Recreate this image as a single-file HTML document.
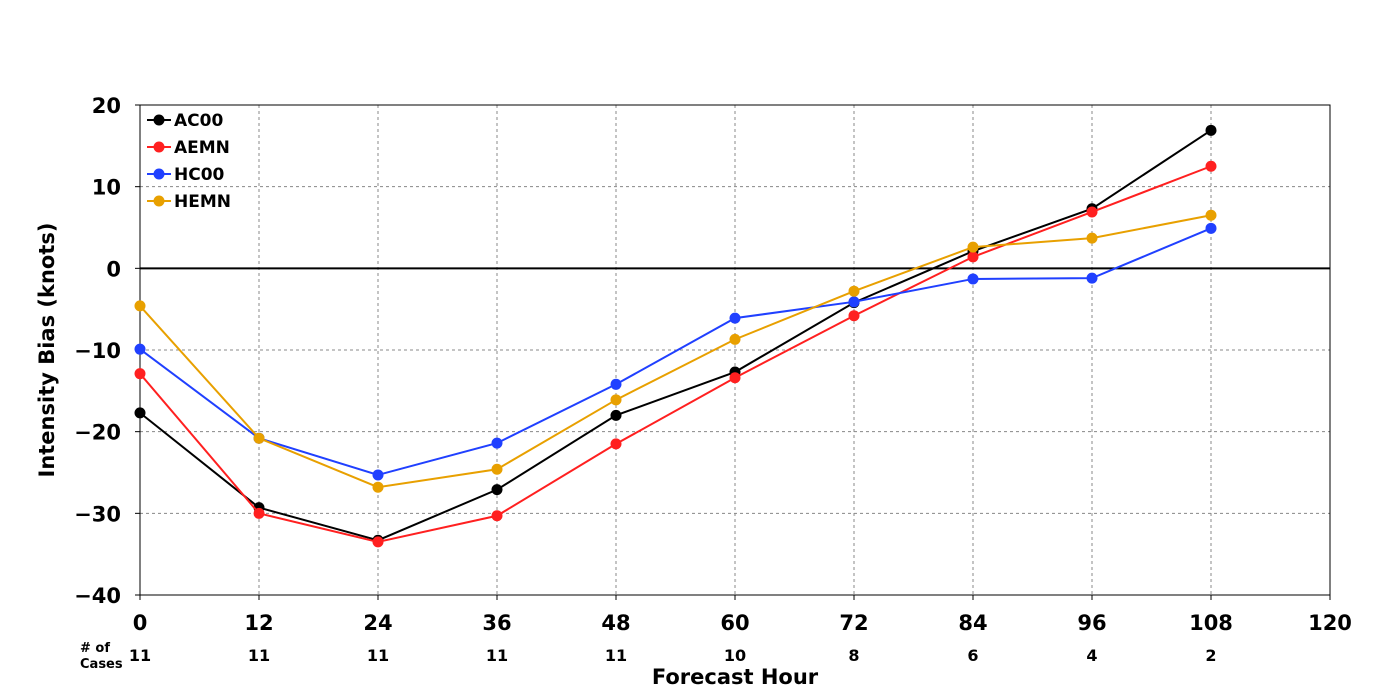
<!DOCTYPE html>
<html><head><meta charset="utf-8"><style>
body{margin:0;background:#fff;}
svg{display:block;font-family:"DejaVu Sans","Liberation Sans",sans-serif;font-weight:bold;}
</style></head><body>
<svg id="chart" width="1400" height="700"></svg>
<script>
const hours=[0,12,24,36,48,60,72,84,96,108];
const cases=[11,11,11,11,11,10,8,6,4,2];
const ac00=[-17.7,-29.3,-33.3,-27.1,-18.0,-12.7,-4.2,2.1,7.3,16.9];
const aemn=[-12.9,-30.0,-33.5,-30.3,-21.5,-13.4,-5.8,1.4,6.9,12.5];
const hc00=[-9.9,-20.8,-25.3,-21.4,-14.2,-6.1,-4.1,-1.3,-1.2,4.9];
const hemn=[-4.6,-20.8,-26.8,-24.6,-16.1,-8.7,-2.8,2.6,3.7,6.5];
const xTicks=[0,12,24,36,48,60,72,84,96,108,120];
const yTicks=[20,10,0,-10,-20,-30,-40];
const seriesNames=["AC00","AEMN","HC00","HEMN"];
const seriesColors=["#000000","#ff2020","#2040ff","#e8a000"];
const seriesData=[ac00,aemn,hc00,hemn];

const L=140,R=1330,T=105,B=595;
const X=v=>L+(v-0)/(120-0)*(R-L);
const Y=v=>T+(20-v)/(60)*(B-T);
const svg=document.getElementById('chart');
const NS='http://www.w3.org/2000/svg';
function mk(tag,attrs,parent){const e=document.createElementNS(NS,tag);for(const k in attrs)e.setAttribute(k,attrs[k]);(parent||svg).appendChild(e);return e;}

// grid
xTicks.forEach(t=>{if(t>0&&t<120){const g=mk('line',{x1:X(t),x2:X(t),y1:T,y2:B,stroke:'#888','stroke-dasharray':'3,3','stroke-width':1});
}});
yTicks.forEach(t=>{if(t<20&&t>-40&&t!==0){const g=mk('line',{x1:L,x2:R,y1:Y(t),y2:Y(t),stroke:'#888','stroke-dasharray':'3,3','stroke-width':1});
}});
const z=mk('line',{x1:L,x2:R,y1:Y(0),y2:Y(0),stroke:'#000','stroke-width':2});

const fr=mk('rect',{x:L,y:T,width:R-L,height:B-T,fill:'none',stroke:'#000','stroke-width':1});


// ticks
xTicks.forEach(t=>{const tx=mk('text',{x:X(t),y:630,'text-anchor':'middle','font-size':21});tx.textContent=t;

mk('line',{x1:X(t),x2:X(t),y1:B,y2:B+5,stroke:'#000'});});
yTicks.forEach(t=>{const tx=mk('text',{x:121,y:Y(t)+8,'text-anchor':'end','font-size':21});tx.textContent=(t<0?'\u2212'+(-t):t);

mk('line',{x1:L-5,x2:L,y1:Y(t),y2:Y(t),stroke:'#000'});});
// cases
hours.forEach((h,i)=>{const tx=mk('text',{x:X(h),y:661,'text-anchor':'middle','font-size':16});tx.textContent=cases[i];
});
let c1=mk('text',{x:80,y:652,'font-size':13});c1.textContent='# of';
let c2=mk('text',{x:80,y:668,'font-size':13});c2.textContent='Cases';
let xt=mk('text',{x:735,y:684,'text-anchor':'middle','font-size':21});xt.textContent='Forecast Hour';
let yt=mk('text',{x:0,y:0,'text-anchor':'middle','font-size':21,transform:'translate(54,350) rotate(-90)'});yt.textContent='Intensity Bias (knots)';

// series
seriesData.forEach((d,si)=>{
 const g=mk('g',{});
 const pl=mk('polyline',{points:d.map((v,i)=>X(hours[i])+','+Y(v)).join(' '),fill:'none',stroke:seriesColors[si],'stroke-width':2},g);
 
 d.forEach((v,i)=>{const c=mk('circle',{cx:X(hours[i]),cy:Y(v),r:5.5,fill:seriesColors[si]},g);
 });
});
// legend
seriesNames.forEach((n,i)=>{const y=120+i*27;const g=mk('g',{});
 
 mk('line',{x1:147,x2:171,y1:y,y2:y,stroke:seriesColors[i],'stroke-width':2},g);
 mk('circle',{cx:159,cy:y,r:5.5,fill:seriesColors[i]},g);
 const t=mk('text',{x:174,y:y+6,'font-size':17},g);t.textContent=n;});
</script>
</body></html>
